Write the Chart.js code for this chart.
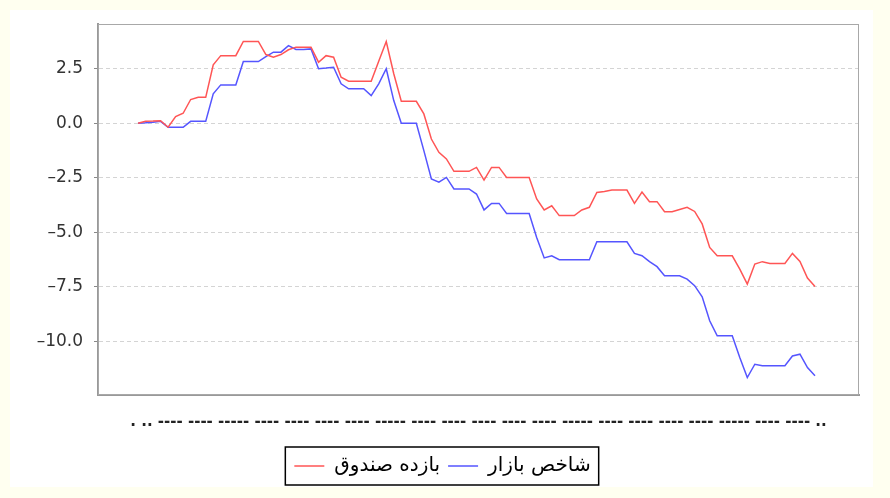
<html>
<head>
<meta charset="utf-8">
<script src="https://cdn.jsdelivr.net/npm/chart.js@4.4.1/dist/chart.umd.min.js"></script>
<style>
  html, body { margin: 0; padding: 0; background: #FFFFF0; }
  #wrap { position: absolute; left: 10px; top: 10px; width: 863px; height: 477px; background: #fff; }
</style>
</head>
<body>
<div id="wrap"><canvas id="myChart" width="863" height="477"></canvas></div>
<script>
  // series labels (legend)
  var fundLabel = 'بازده صندوق';
  var marketLabel = 'شاخص بازار';

  // fund return, % (red)
  var fund = [
    0, 0.09, 0.1, 0.12, -0.18, 0.31, 0.46, 1.09, 1.19, 1.19,
    2.68, 3.1, 3.1, 3.1, 3.75, 3.75, 3.75, 3.15, 3.03, 3.15,
    3.37, 3.49, 3.49, 3.49, 2.8, 3.1, 3.03, 2.11, 1.93, 1.93,
    1.93, 1.93, 2.84, 3.75, 2.27, 1.01, 1.01, 1.01, 0.43, -0.72,
    -1.33, -1.63, -2.2, -2.2, -2.2, -2.02, -2.6, -2.02, -2.02, -2.48,
    -2.48, -2.48, -2.48, -3.47, -3.97, -3.78, -4.23, -4.23, -4.23, -3.97,
    -3.85, -3.17, -3.13, -3.06, -3.06, -3.06, -3.67, -3.15, -3.59, -3.59,
    -4.05, -4.05, -3.95, -3.85, -4.04, -4.61, -5.69, -6.07, -6.07, -6.07,
    -6.68, -7.37, -6.45, -6.34, -6.42, -6.42, -6.42, -5.96, -6.33, -7.09,
    -7.48
  ];

  // market index, % (blue)
  var market = [
    0, 0.02, 0.05, 0.09, -0.18, -0.18, -0.18, 0.09, 0.09, 0.09,
    1.35, 1.76, 1.76, 1.76, 2.83, 2.83, 2.83, 3.06, 3.26, 3.26,
    3.56, 3.38, 3.38, 3.41, 2.5, 2.53, 2.57, 1.81, 1.58, 1.58,
    1.58, 1.27, 1.81, 2.5, 1.04, 0, 0, 0, -1.25, -2.55,
    -2.7, -2.48, -3.01, -3.01, -3.01, -3.24, -3.97, -3.67, -3.67, -4.13,
    -4.13, -4.13, -4.13, -5.23, -6.17, -6.07, -6.25, -6.25, -6.25, -6.25,
    -6.25, -5.43, -5.43, -5.43, -5.43, -5.43, -5.96, -6.07, -6.34, -6.57,
    -6.99, -6.99, -6.99, -7.14, -7.44, -7.95, -9.05, -9.74, -9.74, -9.74,
    -10.73, -11.65, -11.04, -11.11, -11.11, -11.11, -11.11, -10.66, -10.58, -11.19,
    -11.57
  ];

  var yTicks = [-10, -7.5, -5, -2.5, 0, 2.5];

  // the x axis labels came out as a row of dashes in the original
  var xAxisText = '. .. ---- ---- ----- ---- ---- ---- ---- ----- ---- ---- ---- ---- ---- ----- ---- ---- ---- ---- ----- ---- ---- ..';

  var toPoints = (arr) => arr.map((v, i) => ({ x: i, y: v }));

  var plotFrame = {
    id: 'plotFrame',
    afterDatasetsDraw(chart) {
      var a = chart.chartArea;
      var ctx = chart.ctx;
      ctx.save();
      ctx.strokeStyle = '#a8a8a8';
      ctx.lineWidth = 1;
      ctx.strokeRect(a.left + 0.5, a.top + 0.5, a.right - a.left - 1, a.bottom - a.top - 1);
      ctx.restore();
    }
  };

  var legendFrame = {
    id: 'legendFrame',
    afterDraw(chart) {
      var boxes = chart.legend.legendHitBoxes;
      if (!boxes || !boxes.length) return;
      var l = Math.min(...boxes.map(b => b.left));
      var r = Math.max(...boxes.map(b => b.left + b.width));
      var cy = boxes[0].top + boxes[0].height / 2;
      var ctx = chart.ctx;
      ctx.save();
      ctx.strokeStyle = '#000';
      ctx.lineWidth = 1.5;
      ctx.strokeRect(l - 9, cy - 19, r - l + 17, 38);
      ctx.restore();
    }
  };

  var ctx = document.getElementById('myChart').getContext('2d');
  var myChart = new Chart(ctx, {
    type: 'line',
    data: {
      datasets: [{
        label: fundLabel,
        data: toPoints(fund),
        borderColor: '#FF5555',
        backgroundColor: '#FF5555',
        borderWidth: 1.5,
        pointRadius: 0,
        tension: 0
      }, {
        label: marketLabel,
        data: toPoints(market),
        borderColor: '#5555FF',
        backgroundColor: '#5555FF',
        borderWidth: 1.5,
        pointRadius: 0,
        tension: 0
      }]
    },
    options: {
      responsive: false,
      animation: false,
      layout: { padding: { left: 16, right: 14, top: 14, bottom: 1 } },
      plugins: {
        tooltip: { enabled: false },
        legend: {
          position: 'bottom',
          labels: {
            font: { family: 'DejaVu Sans', size: 20 },
            color: '#000',
            usePointStyle: true,
            pointStyle: 'line',
            pointStyleWidth: 30,
            padding: 8
          }
        }
      },
      scales: {
        x: {
          type: 'linear',
          min: -5.32,
          max: 95.85,
          ticks: { display: false },
          grid: { display: false, drawTicks: false },
          border: { display: true, color: '#999', width: 2 },
          title: {
            display: true,
            text: xAxisText,
            color: '#222',
            font: { family: 'DejaVu Sans', size: 15, weight: 'bold' },
            padding: { top: 0, bottom: 17.3 }
          },
          afterFit: (scale) => {
            scale.height = 53;
            scale.paddingLeft = 0;
            scale.paddingRight = 0;
          }
        },
        y: {
          min: -12.45,
          max: 4.55,
          afterBuildTicks: (scale) => { scale.ticks = yTicks.map(v => ({ value: v })); },
          ticks: {
            color: '#333',
            font: { family: 'DejaVu Sans', size: 17 },
            padding: 11,
            callback: (v) => (v < 0 ? '–' : '') + Math.abs(v).toFixed(1)
          },
          grid: {
            color: '#d4d4d4',
            tickColor: '#888',
            tickLength: 4,
            tickBorderDash: []
          },
          border: { display: true, color: '#999', width: 2, dash: [4, 3] },
          afterFit: (scale) => {
            scale.width = 72;
            scale.paddingTop = 0;
            scale.paddingBottom = 0;
          }
        }
      }
    },
    plugins: [plotFrame, legendFrame]
  });
</script>
</body>
</html>
